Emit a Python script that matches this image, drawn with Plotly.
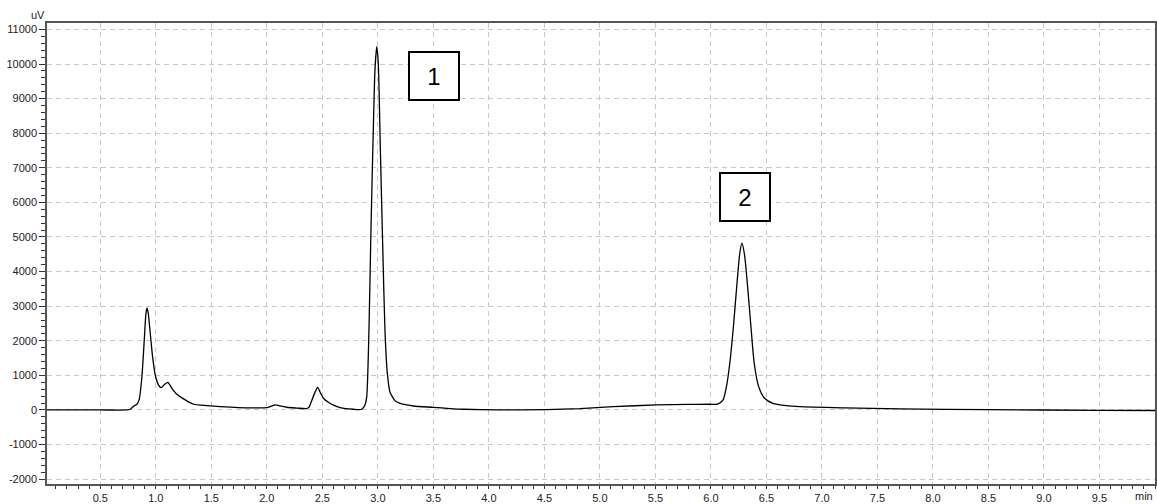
import plotly.graph_objects as go

# Chromatogram trace: retention time (min) vs detector signal (uV)
time_min = [
    0.02, 0.50, 0.74, 0.77, 0.80, 0.83, 0.85, 0.875, 0.896, 0.91, 0.92, 0.932,
    0.944, 0.958, 0.971, 0.995, 1.025, 1.049, 1.079, 1.109, 1.145, 1.19, 1.265,
    1.34, 1.46, 1.58, 1.744, 1.90, 2.00, 2.04, 2.075, 2.11, 2.18, 2.27, 2.36,
    2.38, 2.395, 2.43, 2.458, 2.485, 2.51, 2.554, 2.60, 2.66, 2.78, 2.855,
    2.884, 2.90, 2.92, 2.938, 2.959, 2.974, 2.99, 3.004, 3.022, 3.044, 3.064,
    3.085, 3.109, 3.154, 3.20, 3.26, 3.32, 3.50, 3.65, 3.77, 4.07, 4.52, 4.82,
    5.12, 5.51, 5.80, 5.99, 6.06, 6.11, 6.14, 6.17, 6.20, 6.23, 6.26, 6.279,
    6.303, 6.333, 6.363, 6.39, 6.43, 6.483, 6.558, 6.678, 6.80, 7.20, 7.70,
    8.50, 9.50, 10.0,
]
signal_uv = [
    0, 0, 0, 20, 110, 165, 300, 960, 2020, 2750, 2940, 2800,
    2410, 1950, 1540, 1010, 720, 645, 740, 800, 627, 453, 290,
    165, 125, 95, 67, 60, 67, 110, 145, 125, 78, 55, 38,
    80, 193, 480, 655, 480, 338, 222, 140, 67, 20, 20,
    145, 385, 2310, 5200, 8090, 9830, 10500, 10020, 7610, 4720, 2310,
    1080, 520, 270, 190, 145, 115, 75, 40, 20, 0, 10, 38,
    95, 145, 160, 165, 170, 290, 675, 1350, 2310, 3470, 4530, 4820,
    4480, 3470, 2310, 1350, 675, 338, 193, 125, 95, 60, 30,
    10, -10, -15,
]

# Peak labels
peak_labels = ["1", "2"]
peak_label_time = [3.51, 6.306]
peak_label_signal = [9640, 6170]

# Axis ticks
x_tick_values = [0.5, 1.0, 1.5, 2.0, 2.5, 3.0, 3.5, 4.0, 4.5, 5.0, 5.5, 6.0, 6.5, 7.0, 7.5, 8.0, 8.5, 9.0, 9.5]
x_tick_labels = [f"{v:.1f}" for v in x_tick_values]
y_tick_values = [-2000, -1000, 0, 1000, 2000, 3000, 4000, 5000, 6000, 7000, 8000, 9000, 10000, 11000]
y_tick_labels = [str(v) for v in y_tick_values]

fig = go.Figure()
fig.add_trace(go.Scatter(
    x=time_min, y=signal_uv, mode="lines",
    line=dict(color="black", width=1.3, shape="spline", smoothing=0.6),
    hoverinfo="skip", showlegend=False,
))

for lab, tx, ty in zip(peak_labels, peak_label_time, peak_label_signal):
    fig.add_annotation(
        x=tx, y=ty, xref="x", yref="y", text=lab, showarrow=False,
        font=dict(family="Liberation Sans, Arial", size=24, color="black"),
        width=48, height=46, bordercolor="black", borderwidth=2, borderpad=0,
        bgcolor="white",
    )

axis_font = dict(family="Liberation Sans, Arial", size=11, color="#222222")
grid_style = dict(showgrid=True, gridcolor="#c8c8c8", gridwidth=1, griddash="5px,4px")

fig.update_xaxes(
    range=[0.02, 10.0], tickmode="array", tickvals=x_tick_values, ticktext=x_tick_labels,
    ticks="outside", ticklen=3, tickwidth=1, tickcolor="#333333",
    showline=True, linecolor="#555555", linewidth=1.5, mirror=True,
    zeroline=False, tickfont=axis_font, automargin=False,
    minor=dict(dtick=0.1, tick0=0, ticks="outside", ticklen=3, tickcolor="#333333", showgrid=False),
    **grid_style,
)
fig.update_yaxes(
    range=[-2140, 11185], tickmode="array", tickvals=y_tick_values, ticktext=y_tick_labels,
    ticks="outside", ticklen=6, tickwidth=1, tickcolor="#333333",
    showline=True, linecolor="#555555", linewidth=1.5, mirror=True,
    zeroline=False, tickfont=axis_font, automargin=False,
    minor=dict(dtick=200, tick0=0, ticks="outside", ticklen=4, tickcolor="#333333", showgrid=False),
    **grid_style,
)

# Unit labels at the axis ends
fig.add_annotation(x=0, y=1, xref="paper", yref="paper", text="uV", showarrow=False,
                   xanchor="right", yanchor="bottom", xshift=0, yshift=0,
                   font=dict(family="Liberation Sans, Arial", size=11, color="#222222"))
fig.add_annotation(x=1, y=0, xref="paper", yref="paper", text="min", showarrow=False,
                   xanchor="right", yanchor="top", yshift=-4,
                   font=dict(family="Liberation Sans, Arial", size=11, color="#222222"))

fig.update_layout(
    width=1157, height=504,
    margin=dict(l=47, r=2, t=23, b=20),
    plot_bgcolor="white", paper_bgcolor="white",
    showlegend=False,
)

fig.write_html("out.html")
